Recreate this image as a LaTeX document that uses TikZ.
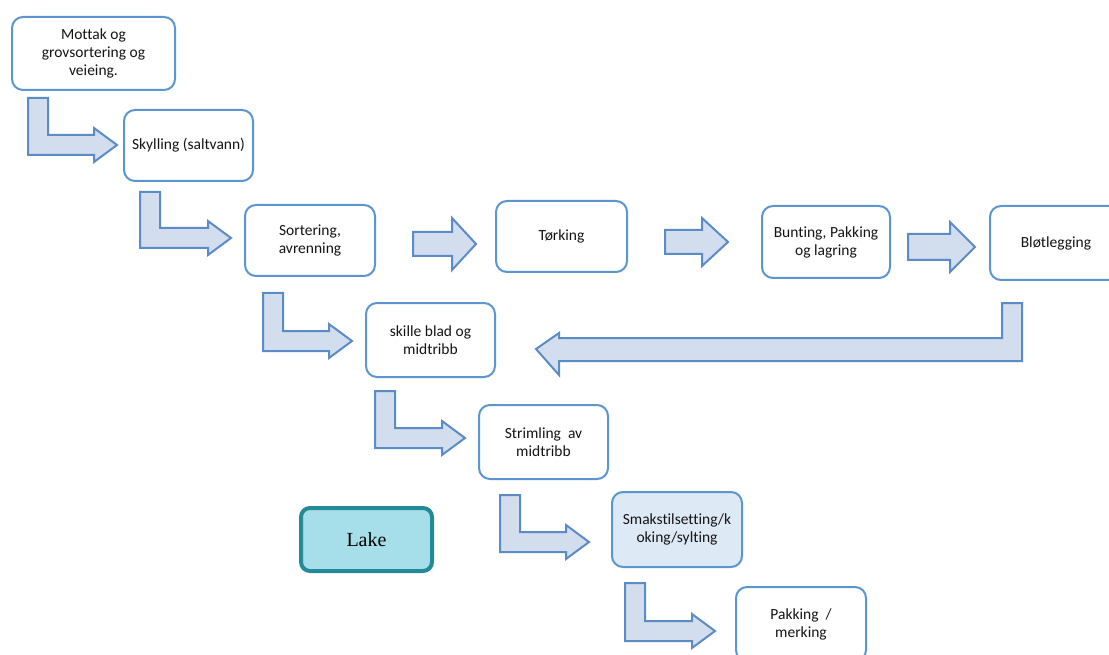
\documentclass[tikz,border=0pt]{standalone}
\usepackage{fontspec}
\setmainfont{Carlito}[Ligatures=NoCommon]
\newfontfamily\lakefont{Liberation Serif}
\definecolor{boxline}{RGB}{91,150,208}
\definecolor{arrline}{RGB}{92,140,200}
\definecolor{arrfill}{RGB}{210,221,238}
\definecolor{smakfill}{RGB}{222,233,246}
\definecolor{lakefill}{RGB}{166,223,234}
\definecolor{lakeline}{RGB}{36,138,152}
\definecolor{txt}{RGB}{20,20,20}
\newcommand\Larrow[4]{%
  \draw[blockarrow] (#1,#2) -- ({#1+20},#2) -- ({#1+20},{#4-10}) -- ({#3-23},{#4-10})
    -- ({#3-23},{#4-17}) -- (#3,#4) -- ({#3-23},{#4+17}) -- ({#3-23},{#4+10})
    -- (#1,{#4+10}) -- cycle;}
\newcommand\Sarrow[6]{%
  \draw[blockarrow] (#1,{#3-#4}) -- ({#2-#6},{#3-#4}) -- ({#2-#6},{#3-#5}) -- (#2,#3)
    -- ({#2-#6},{#3+#5}) -- ({#2-#6},{#3+#4}) -- (#1,{#3+#4}) -- cycle;}
\begin{document}
\begin{tikzpicture}[x=1pt,y=-1pt,
  stepbox/.style={draw=boxline,line width=2pt,rounded corners=11pt,fill=white,
    align=center,text=txt,font=\fontsize{15.5}{18}\selectfont,inner sep=2pt},
  blockarrow/.style={draw=arrline,line width=2pt,fill=arrfill,line join=miter},
  lakebox/.style={draw=lakeline,line width=4pt,rounded corners=9pt,fill=lakefill,
    font=\lakefont\fontsize{20}{24}\selectfont}]
\useasboundingbox (0,0) rectangle (1109,655);
\clip (0,0) rectangle (1109,655);
\fill[white] (0,0) rectangle (1109,655);
% boxes
\node[stepbox,minimum width=163pt,minimum height=73pt] (mottak) at (93.5,53.5) {Mottak og\\grovsortering og\\veieing.};
\node[stepbox,minimum width=129pt,minimum height=71pt] (skylling) at (188.5,145.5) {Skylling (saltvann)};
\node[stepbox,minimum width=130pt,minimum height=71pt] (sortering) at (310,240.5) {Sortering,\\avrenning};
\node[stepbox,minimum width=131pt,minimum height=71pt] (torking) at (561.5,236.5) {Tørking};
\node[stepbox,minimum width=128pt,minimum height=72pt] (bunting) at (826,242) {Bunting, Pakking\\og lagring};
\node[stepbox,minimum width=132pt,minimum height=74pt] (blot) at (1056,243) {Bløtlegging};
\node[stepbox,minimum width=129pt,minimum height=74pt] (skille) at (430.5,340) {skille blad og\\midtribb};
\node[stepbox,minimum width=129pt,minimum height=74pt] (strimling) at (543.5,442) {Strimling\ \ av\\midtribb};
\node[lakebox,minimum width=131pt,minimum height=63pt] (lake) at (366.5,539.5) {Lake};
\node[stepbox,fill=smakfill,minimum width=130pt,minimum height=75pt] (smak) at (677,529.5) {Smakstilsetting/k\\oking/sylting};
\node[stepbox,minimum width=130pt,minimum height=74pt] (pakking) at (801,624) {Pakking\ \ /\\merking};
% bent arrows
\Larrow{28}{98}{117}{145}
\Larrow{140}{192}{231}{238}
\Larrow{263}{293}{352}{341}
\Larrow{375}{391}{465}{438}
\Larrow{500}{495}{589}{542}
\Larrow{625}{583}{715}{631}
% straight arrows
\Sarrow{413}{476}{244}{12}{26}{24}
\Sarrow{665}{728}{242}{12}{24}{26}
\Sarrow{908}{975}{247}{13}{25}{25}
% return arrow
\draw[blockarrow] (1002,303) -- (1022,303) -- (1022,361) -- (559,361) -- (559,375)
  -- (536,349) -- (559,333) -- (559,338) -- (1002,338) -- cycle;
\end{tikzpicture}
\end{document}
